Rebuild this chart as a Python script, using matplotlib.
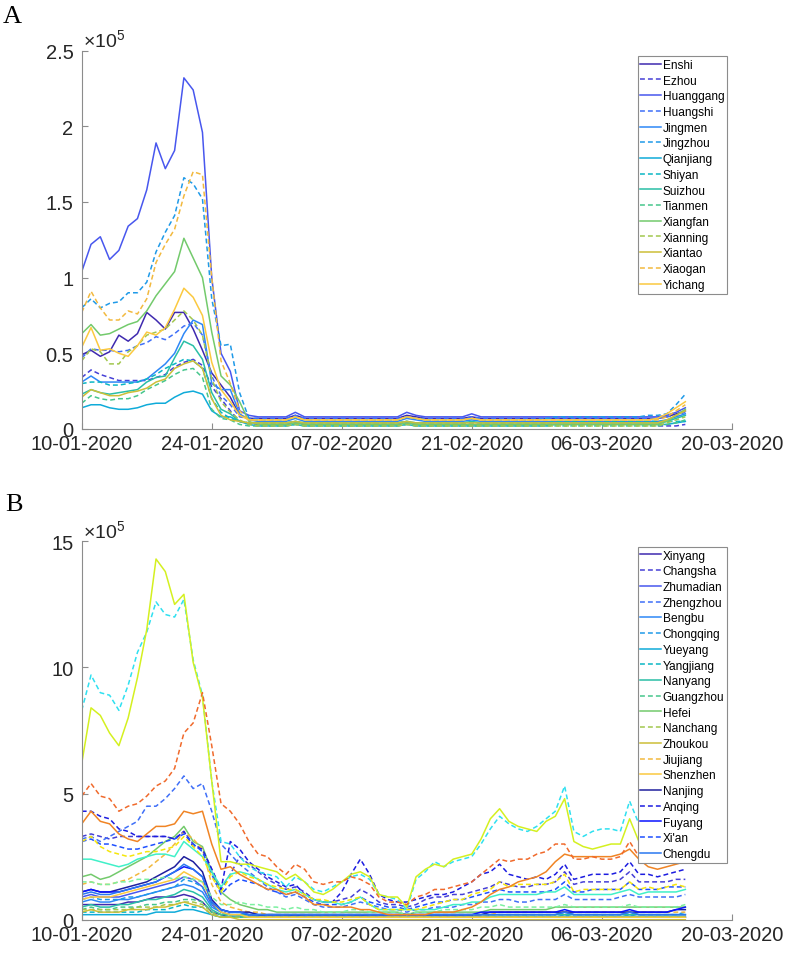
import numpy as np
import pandas as pd
import matplotlib
matplotlib.use("Agg")
import matplotlib.pyplot as plt
import matplotlib.dates as mdates
from matplotlib.ticker import FormatStrFormatter

plt.rcParams["font.family"] = ["Liberation Sans", "DejaVu Sans"]
plt.rcParams["mathtext.fontset"] = "custom"
plt.rcParams["mathtext.rm"] = "Liberation Sans"

# ==========================
# Dates (daily, 10-01-2020 .. 15-03-2020)
# ==========================
dates = pd.date_range("2020-01-10", periods=66, freq="D")

# ==========================
# Panel A (values in thousands)
# ==========================
enshi = [49, 52, 48, 51, 62, 58, 63, 77, 72, 66, 77, 77, 66, 52, 37, 29, 21,
         9, 7, 7, 7, 7, 7, 9, 7, 7, 7, 7, 7, 7, 7, 7, 7, 7, 7, 9, 8, 7, 7, 7, 7,
         7, 8, 7, 7, 7, 7, 7, 7, 7, 7, 7, 7, 7, 7, 7, 7, 7, 7, 7, 7, 7, 7, 8, 10, 12]
ezhou = [34, 39, 36, 34, 32, 32, 32, 32, 34, 36, 41, 44, 46, 42, 28, 20, 12,
         5, 4, 3, 3, 3, 3, 4, 3, 3, 3, 3, 3, 3, 3, 3, 3, 3, 3, 4, 3, 3, 3, 3, 3,
         3, 3, 3, 3, 3, 3, 3, 3, 3, 3, 3, 3, 3, 3, 3, 3, 3, 3, 3, 3, 3, 2, 2, 2, 3]
huanggang = [104, 122, 127, 112, 118, 134, 139, 158, 189, 172, 184, 232, 224, 196, 100, 50, 38,
             12, 9, 8, 8, 8, 8, 11, 8, 8, 8, 8, 8, 8, 8, 8, 8, 8, 8, 11, 9, 8, 8, 8, 8,
             8, 10, 8, 8, 8, 8, 8, 8, 8, 8, 8, 8, 8, 8, 8, 8, 8, 8, 8, 8, 8, 8, 9, 11, 14]
huangshi = [47, 53, 52, 52, 51, 52, 55, 57, 61, 59, 63, 68, 70, 62, 35, 22, 16,
            8, 7, 7, 7, 7, 7, 9, 7, 7, 7, 7, 7, 7, 7, 7, 7, 7, 7, 8, 7, 7, 7, 7, 7,
            7, 8, 7, 7, 7, 7, 7, 7, 7, 7, 7, 7, 7, 7, 7, 7, 7, 7, 7, 7, 7, 7, 8, 9, 11]
jingmen = [31, 35, 31, 31, 31, 31, 31, 33, 38, 43, 50, 63, 72, 69, 30, 26, 26,
           10, 6, 5, 5, 5, 5, 7, 5, 5, 5, 5, 5, 5, 5, 5, 5, 5, 5, 7, 6, 5, 5, 5, 5,
           5, 6, 5, 5, 5, 5, 5, 5, 5, 5, 5, 5, 5, 5, 5, 5, 5, 5, 5, 5, 5, 5, 6, 8, 10]
jingzhou = [80, 86, 80, 83, 84, 90, 90, 97, 117, 130, 141, 166, 162, 152, 86, 55, 56,
            24, 7, 6, 6, 6, 6, 8, 6, 6, 6, 6, 6, 6, 6, 6, 6, 6, 6, 8, 7, 6, 6, 6, 6,
            6, 7, 6, 6, 6, 6, 6, 6, 6, 7, 8, 8, 8, 8, 8, 8, 8, 8, 8, 8, 9, 9, 10, 16, 23]
qianjiang = [14, 16, 16, 14, 13, 13, 14, 16, 17, 17, 21, 24, 25, 23, 12, 8, 8,
             5, 3, 2, 2, 2, 2, 3, 2, 2, 2, 2, 2, 2, 2, 2, 2, 2, 2, 3, 2, 2, 2, 2, 2,
             2, 2, 2, 2, 2, 2, 2, 2, 2, 2, 3, 3, 3, 3, 3, 3, 3, 3, 3, 3, 3, 3, 3, 4, 5]
shiyan = [30, 31, 31, 29, 29, 30, 31, 33, 36, 40, 43, 46, 45, 40, 20, 11, 7,
          5, 4, 4, 4, 4, 4, 5, 4, 4, 4, 4, 4, 4, 4, 4, 4, 4, 4, 5, 4, 4, 4, 4, 4,
          4, 4, 4, 4, 4, 4, 4, 4, 4, 4, 5, 5, 5, 5, 5, 5, 5, 5, 5, 5, 5, 5, 5, 5, 5]
suizhou = [23, 26, 24, 23, 24, 25, 26, 31, 34, 35, 47, 58, 55, 46, 24, 13, 10,
           5, 4, 4, 4, 4, 4, 5, 4, 4, 4, 4, 4, 4, 4, 4, 4, 4, 4, 5, 4, 4, 4, 4, 4,
           4, 5, 4, 4, 4, 4, 4, 4, 4, 4, 4, 4, 4, 4, 4, 4, 4, 4, 4, 4, 4, 4, 5, 7, 9]
tianmen = [17, 22, 20, 19, 20, 20, 22, 26, 29, 32, 36, 39, 40, 34, 13, 7, 6,
           3, 2, 2, 2, 2, 2, 3, 2, 2, 2, 2, 2, 2, 2, 2, 2, 2, 2, 3, 2, 2, 2, 2, 2,
           2, 2, 2, 2, 2, 2, 2, 2, 2, 2, 2, 2, 2, 2, 2, 2, 2, 2, 2, 2, 2, 2, 3, 4, 6]
xiangfan = [63, 69, 62, 63, 66, 69, 71, 78, 88, 96, 104, 126, 113, 100, 64, 35, 29,
            18, 5, 3, 3, 3, 3, 4, 3, 3, 3, 3, 3, 3, 3, 3, 3, 3, 3, 4, 3, 3, 3, 3, 3,
            3, 3, 3, 3, 3, 3, 3, 3, 3, 3, 3, 3, 3, 3, 3, 3, 3, 3, 3, 3, 3, 3, 5, 9, 13]
xianning = [45, 53, 51, 43, 43, 51, 55, 62, 64, 66, 72, 78, 72, 62, 33, 18, 11,
            6, 3, 2, 2, 2, 2, 3, 2, 2, 2, 2, 2, 2, 2, 2, 2, 2, 2, 3, 2, 2, 2, 2, 2,
            2, 2, 2, 2, 2, 2, 2, 2, 2, 2, 2, 2, 2, 2, 2, 2, 2, 2, 2, 2, 2, 2, 4, 6, 8]
xiantao = [21, 26, 24, 22, 22, 24, 25, 27, 31, 33, 40, 43, 45, 40, 20, 9, 6,
           5, 4, 4, 4, 4, 4, 5, 4, 4, 4, 4, 4, 4, 4, 4, 4, 4, 4, 5, 4, 4, 4, 4, 4,
           4, 4, 4, 4, 4, 4, 4, 4, 4, 4, 4, 4, 4, 4, 4, 4, 4, 4, 4, 4, 4, 4, 6, 9, 12]
xiaogan = [77, 91, 80, 72, 72, 78, 76, 86, 110, 122, 132, 154, 170, 168, 100, 45, 30,
           12, 6, 6, 6, 6, 6, 8, 6, 6, 6, 6, 6, 6, 6, 6, 6, 6, 6, 8, 7, 6, 6, 6, 6,
           6, 7, 6, 6, 6, 6, 6, 6, 6, 6, 6, 6, 6, 6, 6, 6, 6, 6, 6, 6, 6, 6, 8, 12, 16]
yichang = [54, 67, 52, 53, 50, 48, 55, 64, 62, 67, 79, 93, 87, 75, 44, 26, 18,
           9, 6, 6, 6, 6, 6, 8, 6, 6, 6, 6, 6, 6, 6, 6, 6, 6, 6, 8, 7, 6, 6, 6, 6,
           6, 7, 6, 6, 6, 6, 6, 6, 6, 6, 6, 6, 6, 6, 6, 6, 6, 6, 6, 6, 6, 7, 10, 14, 18]

names_a = ["Enshi", "Ezhou", "Huanggang", "Huangshi", "Jingmen", "Jingzhou",
           "Qianjiang", "Shiyan", "Suizhou", "Tianmen", "Xiangfan", "Xianning",
           "Xiantao", "Xiaogan", "Yichang"]
series_a = [enshi, ezhou, huanggang, huangshi, jingmen, jingzhou, qianjiang,
            shiyan, suizhou, tianmen, xiangfan, xianning, xiantao, xiaogan, yichang]

# ==========================
# Panel B (values in units of 10^4)
# ==========================
xinyang = [6, 6, 6, 6, 6, 7, 7, 8, 9, 9, 9, 10, 9, 7, 3, 2, 1,
           1, 1, 1, 1, 1, 1, 1, 1, 1, 1, 1, 1, 1, 1, 1, 1, 1, 1, 1, 1, 1, 1, 1, 1,
           1, 1, 1, 1, 1, 1, 1, 1, 1, 1, 1, 1, 1, 1, 1, 1, 1, 1, 1, 1, 1, 1, 1, 1, 1]
changsha = [33, 34, 33, 32, 33, 33, 33, 33, 33, 33, 32, 35, 30, 28, 20, 12, 18,
            25, 22, 19, 16, 14, 12, 13, 11, 8, 7, 7, 8, 9, 12, 10, 7, 6, 6, 5, 6, 8, 9, 9, 10,
            10, 11, 12, 13, 15, 14, 13, 13, 14, 14, 15, 19, 14, 15, 15, 15, 15, 16, 19, 15, 15, 15, 15, 16, 16]
zhumadian = [9, 10, 9, 9, 9, 10, 11, 12, 13, 14, 15, 17, 16, 13, 6, 3, 2,
             2, 2, 2, 1, 1, 1, 2, 1, 1, 1, 1, 1, 1, 2, 1, 1, 1, 1, 1, 1, 1, 1, 1, 1,
             1, 1, 1, 2, 2, 2, 2, 2, 2, 2, 2, 3, 2, 2, 2, 2, 2, 2, 3, 2, 2, 2, 2, 2, 2]
zhengzhou = [32, 33, 31, 33, 35, 37, 39, 45, 45, 48, 52, 57, 52, 54, 43, 30, 26,
             22, 19, 16, 13, 11, 9, 10, 8, 6, 5, 5, 5, 6, 7, 6, 5, 4, 4, 3, 4, 4, 5, 5, 5,
             6, 6, 7, 7, 8, 8, 7, 7, 8, 8, 8, 10, 8, 8, 8, 8, 8, 9, 10, 9, 9, 9, 9, 9, 10]
bengbu = [7, 8, 7, 7, 8, 8, 9, 10, 11, 12, 13, 14, 13, 11, 5, 3, 2,
          2, 1, 1, 1, 1, 1, 1, 1, 1, 1, 1, 1, 1, 1, 1, 1, 1, 1, 1, 1, 1, 1, 1, 1,
          1, 1, 1, 1, 1, 1, 1, 1, 1, 1, 1, 2, 1, 1, 1, 1, 1, 1, 2, 1, 1, 1, 1, 1, 1]
chongqing = [8, 9, 8, 8, 8, 9, 9, 10, 11, 12, 13, 16, 15, 13, 6, 3, 2,
             2, 2, 2, 2, 2, 2, 2, 2, 2, 2, 2, 2, 2, 2, 2, 2, 2, 2, 2, 2, 2, 2, 2, 2,
             2, 2, 2, 2, 2, 2, 2, 2, 2, 2, 2, 3, 2, 2, 2, 2, 2, 2, 3, 2, 2, 2, 2, 2, 3]
yueyang = [2, 2, 2, 2, 2, 2, 2, 2, 3, 3, 3, 4, 4, 3, 2, 1, 1,
           1, 1, 1, 1, 1, 1, 1, 1, 1, 1, 1, 1, 1, 1, 1, 1, 1, 1, 1, 1, 1, 1, 1, 1,
           1, 1, 1, 1, 1, 1, 1, 1, 1, 1, 1, 1, 1, 1, 1, 1, 1, 1, 1, 1, 1, 1, 1, 1, 1]
yangjiang = [3, 3, 3, 3, 3, 3, 3, 4, 4, 4, 5, 6, 5, 5, 2, 1, 1,
             1, 1, 1, 1, 1, 1, 1, 1, 1, 1, 1, 1, 1, 1, 1, 1, 1, 1, 1, 1, 1, 1, 1, 1,
             1, 1, 1, 1, 1, 1, 1, 1, 1, 1, 1, 1, 1, 1, 1, 1, 1, 1, 1, 1, 1, 1, 1, 1, 1]
nanyang = [5, 6, 5, 5, 6, 6, 7, 8, 8, 9, 10, 12, 11, 9, 4, 2, 2,
           2, 2, 2, 2, 2, 2, 2, 2, 2, 2, 2, 2, 2, 2, 2, 2, 2, 2, 2, 2, 2, 2, 2, 2,
           2, 2, 2, 2, 2, 2, 2, 2, 2, 2, 2, 2, 2, 2, 2, 2, 2, 2, 2, 2, 2, 2, 2, 2, 2]
guangzhou = [4, 5, 4, 4, 5, 5, 5, 6, 6, 7, 7, 8, 8, 7, 3, 2, 1,
             1, 1, 1, 1, 1, 1, 1, 1, 1, 1, 1, 1, 1, 1, 1, 1, 1, 1, 1, 1, 1, 1, 1, 1,
             1, 1, 1, 1, 1, 1, 1, 1, 1, 1, 1, 1, 1, 1, 1, 1, 1, 1, 1, 1, 1, 1, 1, 1, 1]
hefei = [17, 18, 16, 17, 19, 21, 23, 25, 28, 31, 33, 37, 31, 29, 19, 11, 8,
         6, 5, 4, 4, 3, 3, 3, 3, 3, 3, 3, 3, 3, 3, 3, 3, 3, 3, 2, 3, 3, 3, 3, 3,
         3, 3, 3, 4, 4, 4, 4, 4, 4, 4, 5, 5, 5, 5, 5, 5, 5, 5, 5, 5, 5, 5, 5, 5, 5]
nanchang = [4, 4, 4, 4, 4, 4, 5, 5, 5, 6, 6, 7, 7, 6, 3, 1, 1,
            1, 1, 1, 1, 1, 1, 1, 1, 1, 1, 1, 1, 1, 1, 1, 1, 1, 1, 1, 1, 1, 1, 1, 1,
            1, 1, 1, 1, 1, 1, 1, 1, 1, 1, 1, 1, 1, 1, 1, 1, 1, 1, 1, 1, 1, 1, 1, 1, 1]
zhoukou = [3, 4, 3, 3, 3, 4, 4, 4, 5, 5, 6, 7, 6, 5, 2, 1, 1,
           0, 0, 0, 0, 0, 0, 0, 0, 0, 0, 0, 0, 0, 0, 0, 0, 0, 0, 0, 0, 0, 0, 0, 0,
           0, 0, 0, 0, 0, 0, 0, 0, 0, 0, 0, 0, 0, 0, 0, 0, 0, 0, 0, 0, 0, 0, 0, 0, 0]
jiujiang = [14, 15, 14, 14, 15, 16, 18, 20, 23, 26, 30, 35, 32, 28, 14, 7, 5,
            4, 3, 3, 2, 2, 2, 2, 2, 2, 2, 2, 2, 2, 2, 2, 2, 2, 2, 2, 2, 2, 2, 2, 2,
            2, 2, 2, 2, 3, 3, 3, 3, 3, 3, 3, 3, 3, 3, 3, 3, 3, 3, 3, 3, 3, 3, 3, 3, 3]
shenzhen = [8, 9, 9, 9, 10, 11, 12, 13, 14, 15, 16, 19, 17, 15, 7, 3, 2,
            2, 1, 1, 1, 1, 1, 1, 1, 1, 1, 1, 1, 1, 1, 1, 1, 1, 1, 1, 1, 1, 1, 1, 1,
            1, 1, 1, 1, 1, 1, 1, 1, 1, 1, 1, 1, 1, 1, 1, 1, 1, 1, 1, 1, 1, 1, 1, 1, 1]
nanjing = [11, 12, 11, 11, 12, 13, 14, 15, 17, 19, 21, 25, 23, 19, 8, 4, 3,
           3, 3, 2, 2, 2, 2, 2, 2, 2, 2, 2, 2, 2, 2, 2, 2, 2, 2, 2, 2, 2, 2, 2, 2,
           2, 2, 2, 3, 3, 3, 3, 3, 3, 3, 3, 3, 3, 3, 3, 3, 3, 3, 3, 3, 3, 3, 3, 4, 4]
anqing = [43, 43, 41, 40, 36, 35, 33, 33, 33, 33, 32, 35, 29, 28, 20, 12, 31,
          28, 23, 20, 17, 15, 13, 14, 10, 8, 7, 7, 11, 18, 24, 18, 10, 8, 7, 7, 8, 9, 10, 10, 11,
          13, 15, 18, 19, 22, 18, 17, 16, 17, 16, 18, 22, 16, 17, 18, 18, 18, 19, 23, 18, 18, 17, 18, 19, 20]
fuyang = [11, 12, 11, 11, 11, 12, 13, 14, 15, 17, 19, 21, 20, 17, 7, 4, 3,
          3, 2, 2, 2, 2, 2, 2, 2, 2, 2, 2, 2, 2, 2, 2, 2, 2, 2, 2, 2, 2, 2, 2, 2,
          2, 2, 3, 3, 3, 3, 3, 3, 3, 3, 3, 4, 3, 3, 3, 3, 3, 3, 4, 3, 3, 3, 3, 4, 5]
xian = [31, 32, 30, 30, 29, 28, 28, 29, 30, 31, 32, 34, 30, 27, 18, 10, 14,
        16, 15, 14, 12, 11, 10, 11, 9, 7, 6, 6, 6, 7, 9, 7, 6, 5, 5, 4, 5, 6, 7, 7, 8,
        8, 9, 10, 11, 12, 11, 11, 11, 11, 11, 12, 15, 11, 11, 12, 12, 12, 12, 15, 12, 12, 12, 13, 13, 13]
chengdu = [10, 11, 10, 10, 11, 12, 13, 14, 15, 17, 19, 22, 20, 17, 7, 4, 3,
           3, 2, 2, 2, 2, 2, 2, 2, 2, 2, 2, 2, 2, 2, 2, 2, 2, 2, 2, 2, 2, 2, 2, 2,
           2, 2, 2, 2, 2, 2, 2, 2, 2, 2, 2, 3, 2, 2, 2, 2, 2, 2, 3, 2, 2, 2, 2, 2, 2]
# unlabelled lines (drawn, not in the legend)
extra_cyan = [83, 97, 90, 89, 83, 93, 106, 114, 126, 121, 120, 127, 103, 89, 55, 31, 30,
              25, 21, 19, 18, 17, 13, 17, 15, 12, 11, 13, 15, 17, 18, 16, 10, 9, 8, 4, 16, 19, 23, 21, 23,
              24, 25, 30, 36, 41, 38, 36, 35, 37, 40, 43, 53, 35, 33, 35, 36, 36, 35, 47, 38, 36, 35, 36, 37, 38]
extra_teal = [24, 24, 23, 22, 21, 22, 24, 25, 26, 26, 25, 31, 28, 25, 19, 13, 18,
              19, 18, 16, 14, 12, 11, 12, 10, 8, 7, 7, 6, 7, 9, 6, 4, 4, 4, 4, 4, 4, 4, 5, 6,
              6, 7, 7, 9, 10, 10, 10, 10, 10, 11, 11, 13, 10, 10, 10, 10, 10, 11, 12, 10, 11, 11, 11, 11, 12]
extra_lgreen = [15, 15, 14, 14, 15, 15, 16, 16, 16, 17, 16, 17, 16, 15, 9, 6, 6,
                7, 6, 6, 5, 5, 4, 5, 4, 4, 3, 3, 3, 4, 4, 3, 3, 3, 3, 2, 3, 3, 3, 4, 4,
                4, 4, 5, 5, 6, 5, 5, 5, 5, 5, 5, 6, 5, 5, 5, 5, 5, 5, 6, 5, 5, 5, 5, 5, 6]
extra_ygreen = [62, 84, 81, 74, 69, 80, 96, 115, 143, 138, 125, 129, 102, 88, 55, 23, 23,
                22, 22, 21, 20, 19, 16, 18, 15, 11, 10, 12, 15, 18, 19, 17, 10, 9, 9, 5, 17, 20, 22, 21, 24,
                25, 26, 32, 40, 44, 39, 37, 36, 35, 39, 41, 48, 31, 29, 28, 29, 30, 30, 40, 31, 29, 28, 29, 30, 31]
extra_yellow = [31, 33, 29, 27, 26, 25, 26, 27, 27, 28, 29, 33, 29, 25, 17, 11, 17,
                19, 17, 16, 14, 13, 12, 12, 10, 8, 8, 7, 7, 8, 9, 6, 4, 4, 4, 4, 4, 5, 6, 7, 8,
                8, 10, 11, 12, 15, 13, 14, 14, 14, 14, 15, 18, 11, 12, 12, 12, 12, 12, 15, 12, 13, 12, 13, 14, 13]
extra_orange = [38, 43, 39, 38, 34, 32, 31, 34, 37, 37, 38, 43, 42, 43, 30, 20, 21,
                18, 16, 14, 12, 12, 10, 11, 9, 6, 6, 5, 5, 5, 4, 4, 3, 2, 2, 2, 2, 2, 3, 3, 3,
                4, 5, 7, 10, 12, 13, 15, 16, 17, 19, 23, 26, 25, 25, 25, 25, 25, 26, 28, 24, 21, 20, 21, 22, 23]
extra_red = [49, 54, 49, 48, 43, 45, 46, 49, 53, 55, 60, 74, 78, 90, 69, 46, 43,
             38, 31, 26, 25, 21, 18, 22, 20, 15, 14, 15, 15, 17, 16, 14, 9, 7, 7, 6, 9, 10, 12, 12, 13,
             14, 15, 18, 21, 24, 23, 24, 24, 26, 27, 30, 30, 24, 24, 25, 24, 24, 25, 31, 25, 25, 25, 26, 26, 27]

names_b = ["Xinyang", "Changsha", "Zhumadian", "Zhengzhou", "Bengbu", "Chongqing",
           "Yueyang", "Yangjiang", "Nanyang", "Guangzhou", "Hefei", "Nanchang",
           "Zhoukou", "Jiujiang", "Shenzhen", "Nanjing", "Anqing", "Fuyang",
           "Xi'an", "Chengdu"]
series_b = [xinyang, changsha, zhumadian, zhengzhou, bengbu, chongqing, yueyang,
            yangjiang, nanyang, guangzhou, hefei, nanchang, zhoukou, jiujiang,
            shenzhen, nanjing, anqing, fuyang, xian, chengdu]
extras_b = [extra_cyan, extra_teal, extra_lgreen, extra_ygreen, extra_yellow,
            extra_orange, extra_red]

# ==========================
# Colours / styles
# ==========================
parula15 = ["#3f2aaf", "#4640d6", "#4857ee", "#3f6ff8", "#2e87f7",
            "#1f9ae8", "#0fabd9", "#0ab6c4", "#29bfa6", "#46c68c",
            "#73ca6c", "#a2c74e", "#cdbf38", "#f2b93e", "#fbc940"]
jet_b = ["#1f1f9e", "#1c1ce0", "#0a14ff", "#1e50ff", "#2a78f0"]
extra_colors = ["#2fe0f0", "#40f0c8", "#7cf0a0", "#d4f020", "#f5e60a",
                "#f08424", "#f06a2c"]

SOLID = "-"
DASH = (0, (3.2, 2.0))


def style_for(i):
    return SOLID if i % 2 == 0 else DASH


def style_axis(ax, ymax, yticks):
    ax.set_xlim(pd.Timestamp("2020-01-10"), pd.Timestamp("2020-03-20"))
    ax.set_xticks(pd.date_range("2020-01-10", "2020-03-20", freq="14D"))
    ax.xaxis.set_major_formatter(mdates.DateFormatter("%d-%m-%Y"))
    ax.set_ylim(0, ymax)
    ax.set_yticks(yticks)
    ax.yaxis.set_major_formatter(FormatStrFormatter("%g"))
    for s in ["top", "right"]:
        ax.spines[s].set_visible(False)
    for s in ["left", "bottom"]:
        ax.spines[s].set_color("#8c8c8c")
        ax.spines[s].set_linewidth(0.8)
    ax.tick_params(direction="in", length=4.5, width=0.8, color="#8c8c8c",
                   labelcolor="#262626", labelsize=14.5)
    ax.tick_params(axis="x", pad=3.5)
    ax.tick_params(axis="y", pad=6)
    ax.text(0.002, 1.012, r"$\times\mathregular{10^{5}}$", transform=ax.transAxes,
            fontsize=14, color="#262626", va="baseline", ha="left")


def add_legend(ax, handles):
    leg = ax.legend(handles=handles, loc="upper left", bbox_to_anchor=(0.855, 0.986),
                    borderaxespad=0, fancybox=False, framealpha=1,
                    edgecolor="#8c8c8c", fontsize=8.6, handlelength=1.75,
                    handletextpad=0.1, labelspacing=0.31, borderpad=0.25)
    leg.get_frame().set_linewidth(0.8)


fig = plt.figure(figsize=(7.86, 9.54), dpi=100)

# ==========================
# Panel A
# ==========================
ax_a = fig.add_axes([0.104, 0.5493, 0.827, 0.3966])
handles_a = []
for i, (vals, name) in enumerate(zip(series_a, names_a)):
    ln, = ax_a.plot(dates, np.array(vals) / 100.0, color=parula15[i],
                    linestyle=style_for(i), linewidth=1.1, label=name)
    handles_a.append(ln)
style_axis(ax_a, 2.5, [0, 0.5, 1, 1.5, 2, 2.5])
add_legend(ax_a, handles_a)

# ==========================
# Panel B
# ==========================
ax_b = fig.add_axes([0.104, 0.0349, 0.827, 0.3966])
colors_b = parula15 + jet_b
handles_b = []
for i, (vals, name) in enumerate(zip(series_b, names_b)):
    ls = style_for(i) if i < 15 else style_for(i - 15)
    ln, = ax_b.plot(dates, np.array(vals) / 10.0, color=colors_b[i],
                    linestyle=ls, linewidth=1.1, label=name)
    handles_b.append(ln)
for j, vals in enumerate(extras_b):
    ax_b.plot(dates, np.array(vals) / 10.0, color=extra_colors[j],
              linestyle=style_for(j + 1), linewidth=1.1)
style_axis(ax_b, 15, [0, 5, 10, 15])
add_legend(ax_b, handles_b)

fig.text(0.004, 0.976, "A", fontsize=19, family="Liberation Serif", va="baseline")
fig.text(0.007, 0.4647, "B", fontsize=19, family="Liberation Serif", va="baseline")

plt.savefig("out.png", dpi=100)
